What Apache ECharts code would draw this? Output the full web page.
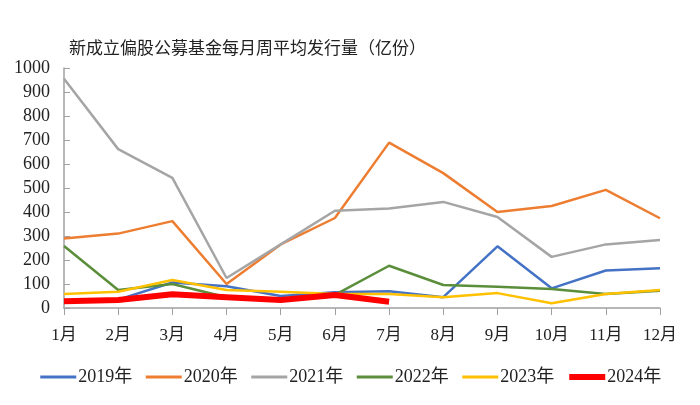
<!DOCTYPE html>
<html><head><meta charset="utf-8">
<script src="https://cdn.jsdelivr.net/npm/echarts@6/dist/echarts.min.js"></script>
<style>html,body{margin:0;padding:0;background:#fff}#c{width:700px;height:405px}</style>
</head><body><div id="c"></div>
<script>
const months = ['1月','2月','3月','4月','5月','6月','7月','8月','9月','10月','11月','12月'];
const seriesNames = ['2019年','2020年','2021年','2022年','2023年','2024年'];
const s2019 = [25, 35, 106, 91, 50, 66, 70, 45, 257, 82, 156, 166];
const s2020 = [290, 310, 362, 100, 265, 375, 689, 562, 400, 425, 492, 374];
const s2021 = [955, 662, 542, 125, 265, 405, 415, 442, 379, 213, 265, 283];
const s2022 = [258, 75, 100, 45, 40, 55, 176, 96, 89, 79, 58, 72];
const s2023 = [58, 68, 117, 75, 68, 58, 58, 45, 62, 20, 58, 75];
const s2024 = [28, 33, 57, 45, 33, 54, 26];
const colors = ['#4472C4','#ED7D31','#A5A5A5','#5B8E3A','#FFC000','#FF0000'];
const widths = [2.5, 2.5, 2.5, 2.5, 2.5, 6];
const yTicks = [0, 100, 200, 300, 400, 500, 600, 700, 800, 900, 1000];

const allData = [s2019, s2020, s2021, s2022, s2023, s2024];
const serif = "'Liberation Serif','Noto Sans CJK SC',serif";
const chart = echarts.init(document.getElementById('c'));
chart.setOption({
  animation: false,
  title: {
    text: '新成立偏股公募基金每月周平均发行量（亿份）',
    left: 64, top: 34,
    textStyle: {fontFamily: "'Noto Sans CJK SC'", fontSize: 17, fontWeight: 'normal', color: '#222'}
  },
  legend: {
    bottom: 14, left: 'center',
    itemWidth: 36, itemHeight: 8, itemGap: 12,
    itemStyle: {opacity: 0},
    textStyle: {fontFamily: serif, fontSize: 18, color: '#222', padding: [0,0,0,-3]},
    data: seriesNames.map((n, i) => ({name: n, lineStyle: {width: widths[i] === 6 ? 6 : 3}}))
  },
  grid: {left: 64, right: 40, top: 68, bottom: 97},
  xAxis: {
    type: 'category', data: months, boundaryGap: false,
    axisLine: {lineStyle: {color: '#A0A0A0', width: 1.5}},
    axisTick: {show: true, length: 7, lineStyle: {color: '#A0A0A0'}},
    axisLabel: {fontFamily: serif, fontSize: 17, color: '#222', margin: 19}
  },
  yAxis: {
    type: 'value', min: yTicks[0], max: yTicks[yTicks.length-1], interval: 100,
    axisLine: {show: true, lineStyle: {color: '#A0A0A0', width: 1.5}},
    axisTick: {show: true, inside: true, length: 6, lineStyle: {color: '#A0A0A0'}},
    splitLine: {show: false},
    axisLabel: {fontFamily: serif, fontSize: 18, color: '#222', margin: 14, formatter: v => String(v)}
  },
  series: seriesNames.map((n, i) => ({
    name: n, type: 'line', data: allData[i], symbol: 'none',
    lineStyle: {color: colors[i], width: widths[i]},
    itemStyle: {color: colors[i]},
    z: 2 + i
  }))
});
</script></body></html>
